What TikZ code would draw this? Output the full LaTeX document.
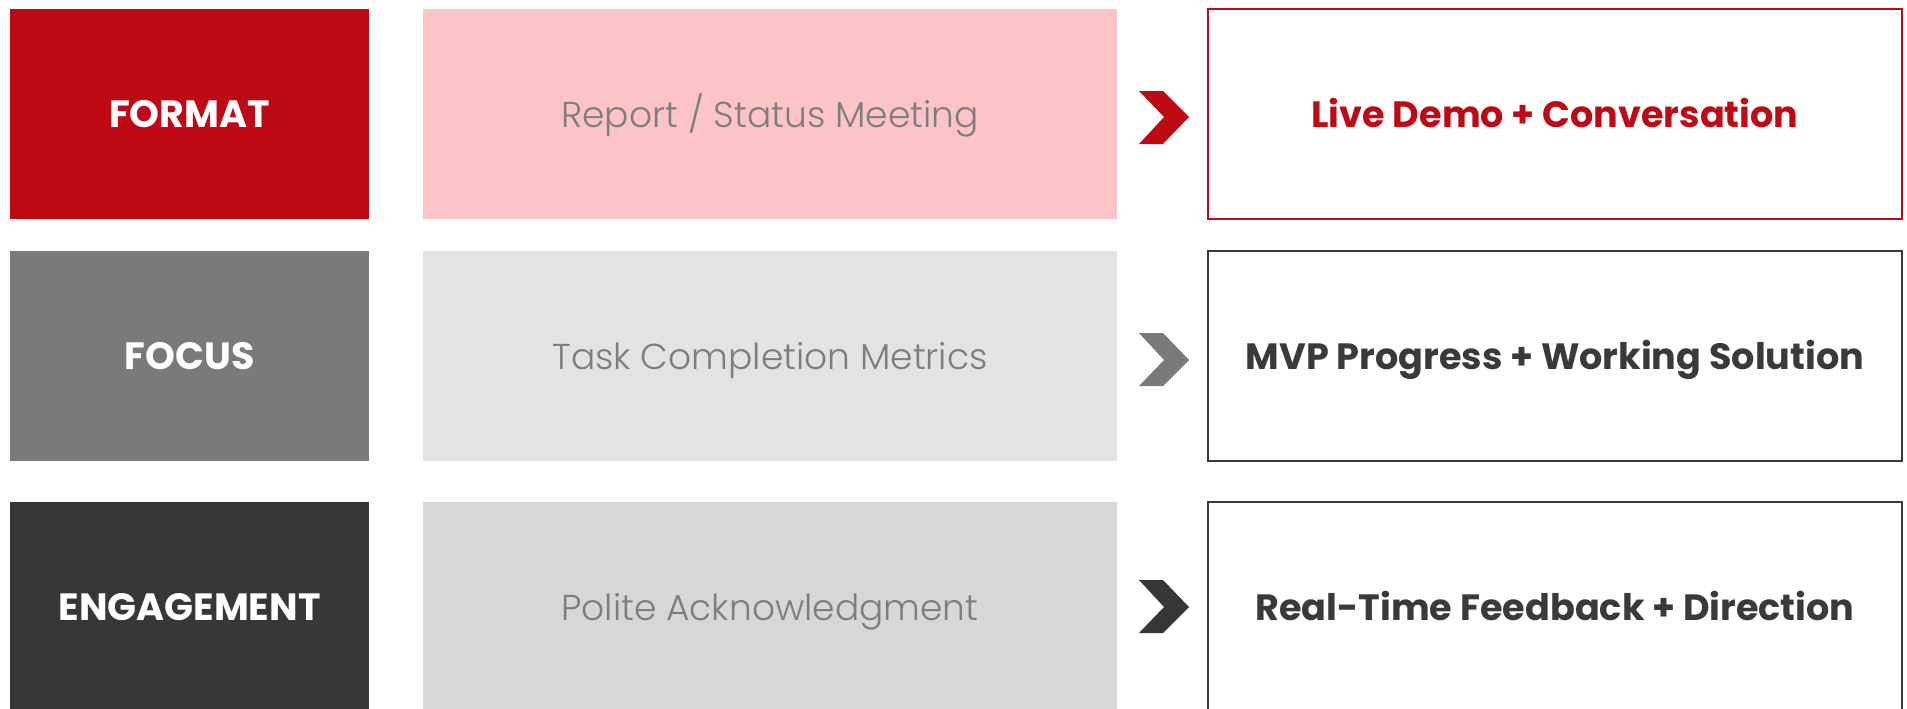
\documentclass[tikz,border=0pt]{standalone}
\usepackage{fontspec}
\setmainfont{Poppins}
\newfontfamily\lightfont{Poppins Light}
\definecolor{cred}{HTML}{BE0A14}
\definecolor{cpink}{HTML}{FCC4C7}
\definecolor{cgray}{HTML}{7A7A7A}
\definecolor{clgray}{HTML}{E3E3E3}
\definecolor{cdark}{HTML}{393736}
\definecolor{clgraytwo}{HTML}{D8D6D7}
\definecolor{cmidtext}{HTML}{7D7D7D}
\definecolor{ctext}{HTML}{3A3A3A}
\begin{document}
\begin{tikzpicture}[x=0.5pt,y=-0.5pt,
  txt/.style={text height=13pt,text depth=0pt,inner sep=0pt},
  labelbox/.style={rectangle,inner sep=0pt,minimum width=179.5pt,minimum height=105pt},
  midbox/.style={rectangle,inner sep=0pt,minimum width=347pt,minimum height=105pt},
  resbox/.style={rectangle,inner sep=0pt,minimum width=347pt,minimum height=105pt,fill=white,line width=0.75pt},
  labeltxt/.style={txt,font=\fontsize{19}{22}\selectfont\bfseries,text=white},
  midtxt/.style={txt,font=\lightfont\fontsize{18}{21}\selectfont,text=cmidtext},
  restxt/.style={txt,font=\fontsize{18.3}{21}\selectfont\bfseries},
]
\useasboundingbox (0,0) rectangle (1907,708);
\fill[white] (0,0) rectangle (1907,708);
% row 1
\node[labelbox,fill=cred] (l1) at (189.5,114) {};
\node[labeltxt] (l1t) at (l1) {FORMAT};
\node[midbox,fill=cpink] (m1) at (770,114) {};
\node[midtxt] (m1t) at (m1) {Report / Status Meeting};
\node[resbox,draw=cred] (r1) at (1555,114) {};
\node[restxt,text=cred] (r1t) at (r1) {Live Demo + Conversation};
% row 2
\node[labelbox,fill=cgray] (l2) at (189.5,356) {};
\node[labeltxt] (l2t) at (l2) {FOCUS};
\node[midbox,fill=clgray] (m2) at (770,356) {};
\node[midtxt] (m2t) at (m2) {Task Completion Metrics};
\node[resbox,draw=ctext] (r2) at (1555,356) {};
\node[restxt,text=ctext] (r2t) at (r2) {MVP Progress + Working Solution};
% row 3
\node[labelbox,fill=cdark] (l3) at (189.5,607) {};
\node[labeltxt] (l3t) at (l3) {ENGAGEMENT};
\node[midbox,fill=clgraytwo] (m3) at (770,607) {};
\node[midtxt] (m3t) at (m3) {Polite Acknowledgment};
\node[resbox,draw=ctext] (r3) at (1555,607) {};
\node[restxt,text=ctext] (r3t) at (r3) {Real-Time Feedback + Direction};
% chevrons
\fill[cred] (1139,91) -- (1163,91) -- (1189,117) -- (1163,144) -- (1139,144) -- (1164,117) -- cycle;
\fill[cgray] (1139,333) -- (1163,333) -- (1189,360) -- (1163,386) -- (1139,386) -- (1164,360) -- cycle;
\fill[cdark] (1139,580) -- (1163,580) -- (1189,607) -- (1163,633) -- (1139,633) -- (1164,607) -- cycle;
\end{tikzpicture}
\end{document}
